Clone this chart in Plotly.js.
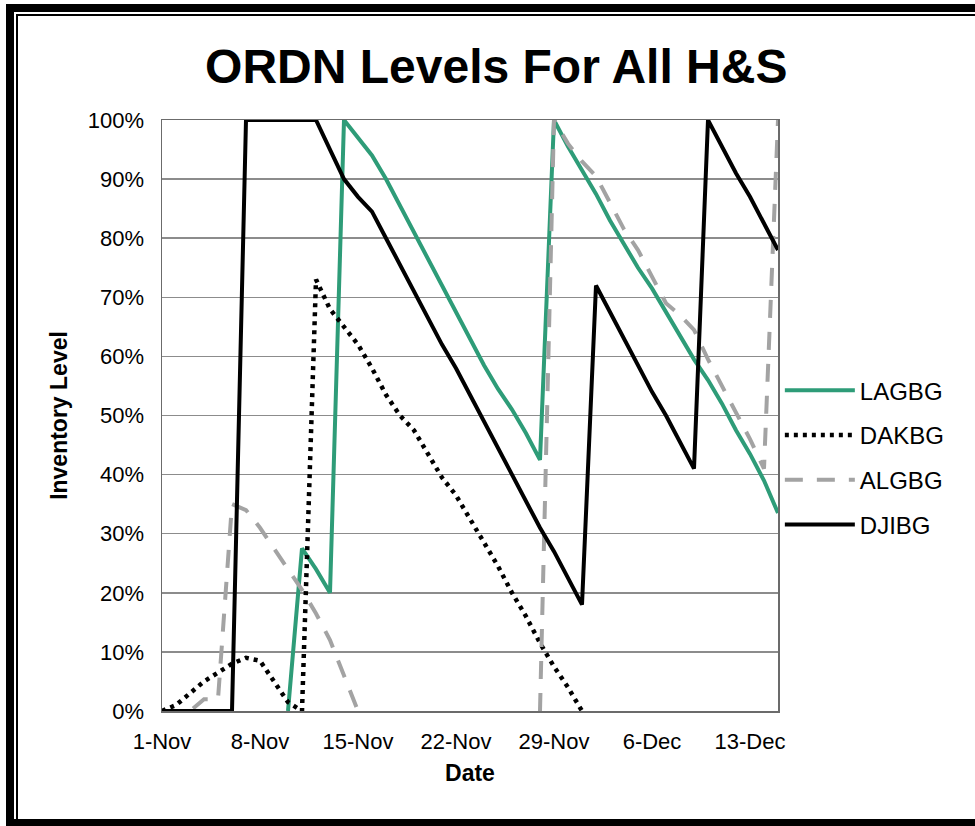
<!DOCTYPE html>
<html>
<head>
<meta charset="utf-8">
<script src="https://cdn.plot.ly/plotly-3.0.1.min.js"></script>
<style>
  html, body { margin: 0; padding: 0; background: #fff; }
  #wrap { position: relative; width: 975px; height: 826px; overflow: hidden; }
  #chart { position: absolute; left: 0; top: 0; width: 975px; height: 826px; }
  .frame { position: absolute; background: #000; pointer-events: none; }
</style>
</head>
<body>
<div id="wrap">
  <div id="chart"></div>
  <div class="frame" style="left:6px;top:4px;width:969px;height:8px"></div>
  <div class="frame" style="left:6px;top:4px;width:8px;height:822px"></div>
  <div class="frame" style="left:6px;top:819px;width:969px;height:7px"></div>
  <div class="frame" style="left:16px;top:14px;width:959px;height:2px"></div>
  <div class="frame" style="left:16px;top:14px;width:2px;height:805px"></div>
</div>
<script>
// Category axis: one point per day, 1-Nov .. 15-Dec
const days = [
  "1-Nov","2-Nov","3-Nov","4-Nov","5-Nov","6-Nov","7-Nov","8-Nov","9-Nov","10-Nov",
  "11-Nov","12-Nov","13-Nov","14-Nov","15-Nov","16-Nov","17-Nov","18-Nov","19-Nov","20-Nov",
  "21-Nov","22-Nov","23-Nov","24-Nov","25-Nov","26-Nov","27-Nov","28-Nov","29-Nov","30-Nov",
  "1-Dec","2-Dec","3-Dec","4-Dec","5-Dec","6-Dec","7-Dec","8-Dec","9-Dec","10-Dec",
  "11-Dec","12-Dec","13-Dec","14-Dec","15-Dec"
];
const tickLabels = ["1-Nov","8-Nov","15-Nov","22-Nov","29-Nov","6-Dec","13-Dec"];

// Inventory level (%) per day
const LAGBG = [
  null,null,null,null,null,null,null,null,null,0,
  27.5,24,20,100,97,94,90,85.5,81,76.5,
  72,67.5,63,58.5,54.5,51,47,42.5,100,95.5,
  91.5,87.5,83,79,75,71.5,67.5,63.5,59.5,56,
  52,47.5,43.5,39,33.5
];
const DAKBG = [
  0,1,3,5,6.5,8,9,8.5,5,1.5,
  0,73,68,65,62,58,53.5,50,47.5,43.5,
  39.5,36.5,32.5,28.5,24.5,20,16,11.5,7.5,4,
  0,null,null,null,null,null,null,null,null,null,
  null,null,null,null,null
];
const ALGBG = [
  0,0,0,2,2,35,34,31,27.5,24,
  20.5,16.5,12,6,0,null,null,null,null,null,
  null,null,null,null,null,null,null,0,100,96,
  93,90.5,86,81.5,78,73.5,69,67,64.5,59.5,
  55,50.5,46,41,100
];
const DJIBG = [
  0,0,0,0,0,0,100,100,100,100,
  100,100,95,90,87,84.5,80,75.5,71,66.5,
  62,58,53.5,49,44.5,40,35.5,31,27,22.5,
  18,72,67.5,63,58.5,54,50,45.5,41,100,
  95.5,91,87,82.5,78
];

const FONT = '"Liberation Sans", Arial, sans-serif';

function tr(name, y, line, grp) {
  return {
    type: 'scatter', mode: 'lines', name: name, x: days, y: y,
    line: line, cliponaxis: false, connectgaps: false,
    legendgroup: grp, hoverinfo: 'skip'
  };
}

const data = [
  tr('LAGBG', LAGBG, {color: '#2e9c78', width: 4}, 'g1'),
  tr('DAKBG', DAKBG, {color: '#000000', width: 4.5, dash: '4px,5px'}, 'g2'),
  tr('ALGBG', ALGBG, {color: '#a3a3a3', width: 4, dash: '18px,14px'}, 'g3'),
  tr('DJIBG', DJIBG, {color: '#000000', width: 4}, 'g4')
];

const layout = {
  width: 975, height: 826,
  margin: {l: 162, r: 197, t: 120, b: 115, pad: 0},
  paper_bgcolor: '#ffffff', plot_bgcolor: '#ffffff',
  font: {family: FONT, color: '#000', size: 22},
  showlegend: true,
  title: {
    text: '<b>ORDN Levels For All H&S</b>',
    font: {family: FONT, size: 48, color: '#000'},
    xref: 'container', yref: 'container',
    x: 0.509, xanchor: 'center', y: 0.92, yanchor: 'middle'
  },
  xaxis: {
    type: 'category', range: [0, 44], fixedrange: true,
    tickmode: 'array', tickvals: tickLabels, ticktext: tickLabels,
    showgrid: false, zeroline: false,
    showline: true, linecolor: '#6b6b6b', linewidth: 1.5, mirror: true,
    ticks: '', ticklabelstandoff: 10,
    tickfont: {family: FONT, size: 22, color: '#000'},
    title: {text: '<b>Date</b>', font: {family: FONT, size: 23, color: '#000'}, standoff: 12}
  },
  yaxis: {
    range: [0, 100], fixedrange: true, dtick: 10, tick0: 0, ticksuffix: '%',
    showgrid: true, gridcolor: '#8c8c8c', gridwidth: 1.5,
    zeroline: false,
    showline: true, linecolor: '#6b6b6b', linewidth: 1.5, mirror: true,
    ticks: '', ticklabelstandoff: 12,
    tickfont: {family: FONT, size: 22, color: '#000'},
    title: {text: '<b>Inventory Level</b>', font: {family: FONT, size: 23, color: '#000'}, standoff: 14}
  },
  legend: {
    x: 1.003, xanchor: 'left', y: 0.58, yanchor: 'top',
    font: {family: FONT, size: 24, color: '#000'},
    bgcolor: 'rgba(0,0,0,0)', borderwidth: 0,
    itemwidth: 70, tracegroupgap: 10.5, traceorder: 'grouped'
  }
};

Plotly.newPlot('chart', data, layout, {staticPlot: true, displayModeBar: false});
</script>
</body>
</html>
